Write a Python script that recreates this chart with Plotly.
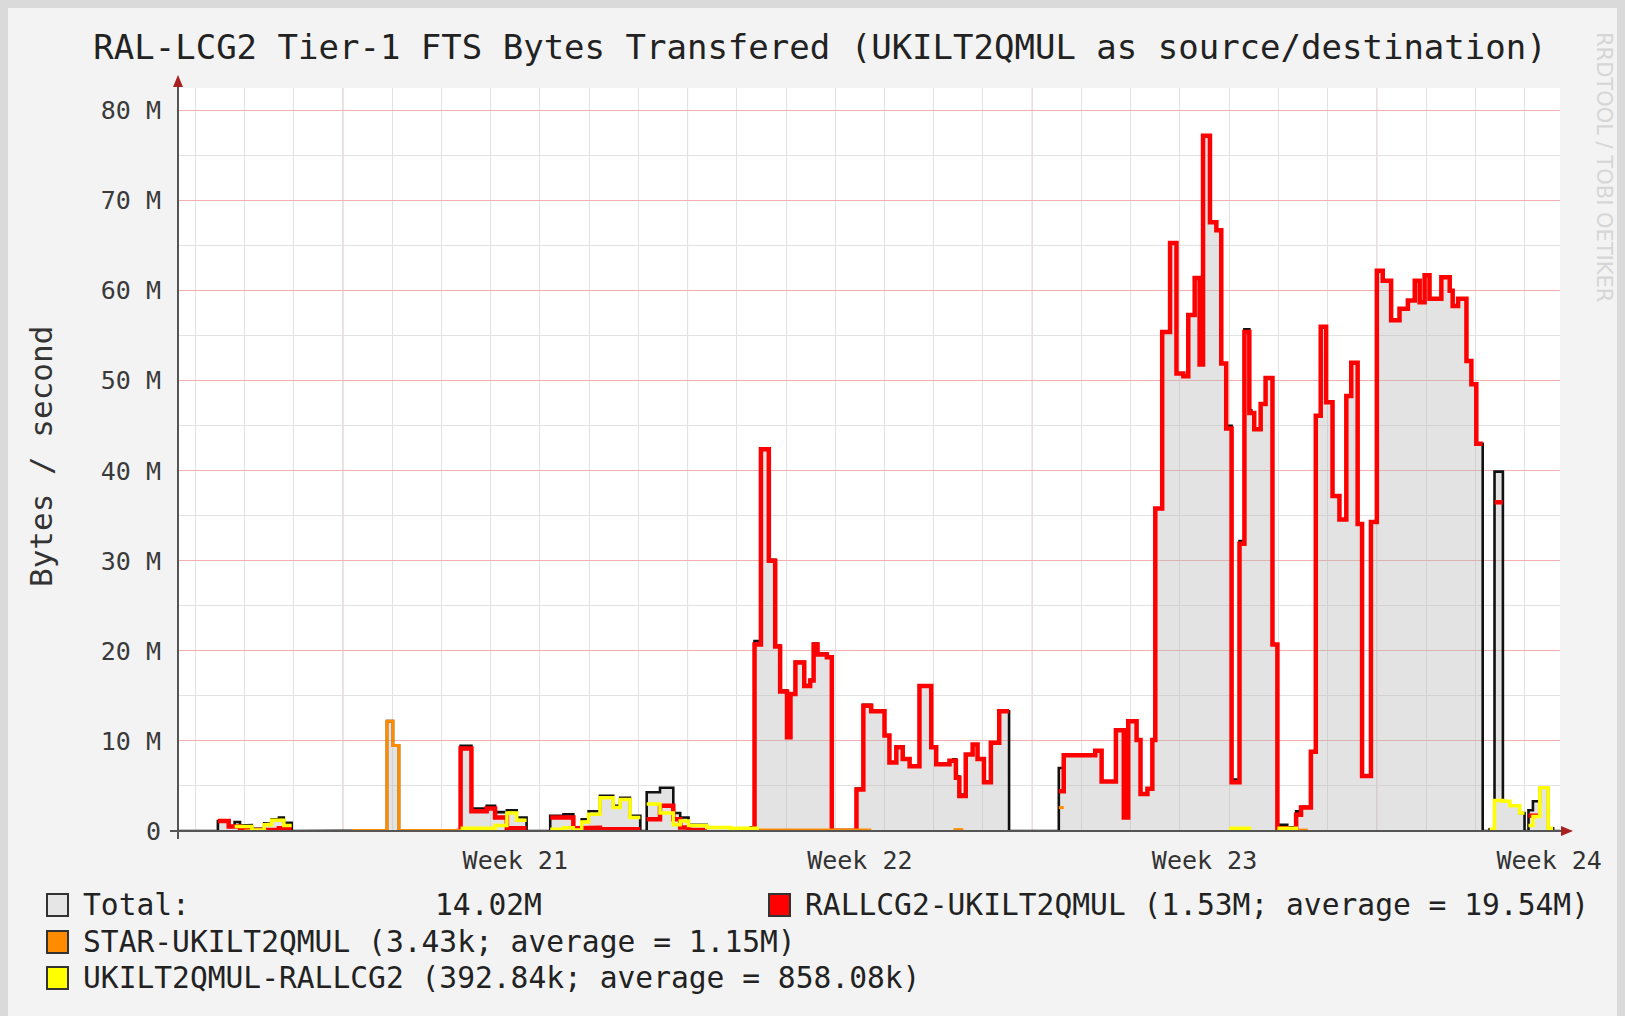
import bisect
import plotly.graph_objects as go

# ---------------- data (time in days from Monday of week 21, values in MB/s) ----------------
X_START, X_END = -3.35, 24.72

week_tick_pos = [3.5, 10.5, 17.5, 24.5]
week_tick_text = ["Week 21", "Week 22", "Week 23", "Week 24"]
y_tick_vals = [0, 10, 20, 30, 40, 50, 60, 70, 80]
y_tick_text = ["0", "10 M", "20 M", "30 M", "40 M", "50 M", "60 M", "70 M", "80 M"]

# RALLCG2-UKILT2QMUL (step start times / values, None = unknown)
red_t = [X_START, -2.54, -2.32, -2.09, -1.30, -1.04,
         2.30, 2.39, 2.61, 2.92, 3.09, 3.33, 3.73,
         4.21, 4.68, 4.99, 5.22, 6.04,
         6.17, 6.44, 6.71, 6.85, 7.02, 7.39,
         8.28, 8.36, 8.49, 8.65, 8.78, 8.88, 9.02, 9.09, 9.19, 9.37, 9.49, 9.56, 9.64, 9.83, 9.93,
         10.43, 10.57, 10.73, 11.00, 11.10, 11.24, 11.37, 11.51, 11.71, 11.95, 12.05, 12.32, 12.45,
         12.52, 12.65, 12.79, 12.89, 13.02, 13.16, 13.33, 13.53,
         14.54, 14.64, 15.28, 15.41, 15.70, 15.86, 15.95, 16.12, 16.20, 16.34, 16.44, 16.50, 16.64,
         16.80, 16.93, 17.07, 17.17, 17.30, 17.40, 17.47, 17.61, 17.74, 17.84, 17.94, 18.05, 18.21,
         18.31, 18.41, 18.51, 18.64, 18.74, 18.88, 18.98, 19.18, 19.36, 19.46, 19.66, 19.76, 19.86,
         19.97, 20.10, 20.24, 20.38, 20.48, 20.61, 20.70, 20.88, 21.00, 21.12, 21.29, 21.46, 21.63,
         21.77, 21.87, 21.97, 22.07, 22.31, 22.48, 22.54, 22.65, 22.82, 22.92, 23.02, 23.15,
         23.39, 23.56, 24.08, 24.31]
red_v = [None, 1.1, 0.5, 0.1, 0.3, None,
         0.0, 9.15, 2.2, 2.5, 1.5, 0.3, None,
         1.5, 0.3, 0.35, 0.2, None,
         1.3, 2.8, 1.3, 0.4, 0.1, None,
         0.0, 20.7, 42.4, 30.0, 20.5, 15.5, 10.4, 15.2, 18.7, 16.1, 16.7, 20.7, 19.6, 19.3, 0.0,
         4.6, 13.9, 13.3, 10.6, 7.6, 9.3, 8.0, 7.2, 16.1, 9.3, 7.4, 7.8, 5.9,
         3.9, 8.5, 9.6, 8.0, 5.4, 9.8, 13.3, None,
         4.4, 8.4, 8.9, 5.5, 11.2, 1.5, 12.2, 10.1, 4.1, 4.7, 10.1, 35.8, 55.4,
         65.3, 50.8, 50.5, 57.3, 61.4, 51.8, 77.2, 67.6, 66.7, 51.9, 44.7, 5.4, 31.9,
         55.4, 46.4, 44.6, 47.4, 50.3, 20.7, 0.3, 0.0, 1.8, 2.6, 8.8, 46.1, 56.0,
         47.6, 37.2, 34.6, 48.3, 52.0, 34.1, 6.1, 34.3, 62.2, 61.1, 56.7, 58.0, 58.9,
         61.1, 58.7, 61.7, 59.1, 61.5, 60.0, 58.3, 59.1, 52.2, 49.6, 43.0, None,
         36.5, None, 1.7, None]

# STAR-UKILT2QMUL
orange_t = [X_START, -2.00, -1.55, 0.18, 0.894, 1.016, 1.138, 2.39,
            8.28, 10.73, 12.40, 12.60, 14.54, 14.64, 19.00, 19.60]
orange_v = [None, 0.05, None, 0.05, 12.2, 9.5, 0.05, None,
            0.1, None, 0.15, None, 2.6, None, 0.1, None]

# UKILT2QMUL-RALLCG2
yellow_t = [X_START, -2.20, -1.85, -1.60, -1.45, -1.20, -1.04,
            2.39, 3.09, 3.33, 3.53, 3.73,
            4.21, 4.48, 4.68, 4.85, 4.99, 5.22, 5.49, 5.63, 5.83, 6.04,
            6.17, 6.44, 6.71, 6.85, 7.02, 7.39, 7.87, 8.45,
            18.00, 18.45, 18.98, 19.40,
            23.29, 23.39, 23.56, 23.70, 23.90, 24.00, 24.08, 24.17, 24.31, 24.48, 24.58]
yellow_v = [None, 0.5, 0.1, 0.7, 1.2, 0.6, None,
            0.3, 0.6, 2.0, 1.2, None,
            0.2, 0.35, 0.1, 1.0, 1.85, 3.7, 2.6, 3.5, 1.5, None,
            3.0, 2.0, 0.7, 1.1, 0.6, 0.4, 0.3, None,
            0.3, None, 0.3, None,
            0.2, 3.4, 3.3, 2.8, 2.0, None, 0.6, 1.6, 4.8, 0.3, None]

legend_total = ("Total:", "14.02M")
legend_red = "RALLCG2-UKILT2QMUL (1.53M; average = 19.54M)"
legend_orange = "STAR-UKILT2QMUL (3.43k; average = 1.15M)"
legend_yellow = "UKILT2QMUL-RALLCG2 (392.84k; average = 858.08k)"

# ---------------- helpers ----------------
def step_xy(t, v):
    xs, ys = [], []
    for i in range(len(t)):
        t1 = t[i + 1] if i + 1 < len(t) else X_END
        if v[i] is None:
            xs.append(t[i]); ys.append(None)
        else:
            xs += [t[i], t1]; ys += [v[i], v[i]]
    return xs, ys


def value_at(t, v, x):
    i = bisect.bisect_right(t, x) - 1
    if i < 0 or v[i] is None:
        return 0.0
    return v[i]


breaks = sorted(set(red_t + orange_t + yellow_t))
total_v = [value_at(red_t, red_v, b) + value_at(orange_t, orange_v, b) + value_at(yellow_t, yellow_v, b)
           for b in breaks]

tx, ty = step_xy(breaks, total_v)
rx, ry = step_xy(red_t, red_v)
ox, oy = step_xy(orange_t, orange_v)
yx, yy = step_xy(yellow_t, yellow_v)

# ---------------- geometry ----------------
# screen pixel coordinates (page has an 8px body margin)
W, H = 1625, 1016
OFF = 8
L, R, T, B = 178, 1560, 88, 831


def px(x):
    return (x - L) / (R - L)


def py(y):
    return (B - y) / (B - T)


MONO = "DejaVu Sans Mono"

fig = go.Figure()
fig.add_trace(go.Scatter(x=tx, y=ty, mode="lines", fill="tozeroy",
                         fillcolor="rgba(185,185,185,0.40)", line=dict(width=0),
                         hoverinfo="skip", showlegend=False))
fig.add_trace(go.Scatter(x=tx, y=ty, mode="lines", line=dict(color="#111111", width=2.6),
                         name="Total", showlegend=False))
fig.add_trace(go.Scatter(x=rx, y=ry, mode="lines", line=dict(color="#ff0000", width=4.5),
                         connectgaps=False, name="RALLCG2-UKILT2QMUL", showlegend=False))
fig.add_trace(go.Scatter(x=ox, y=oy, mode="lines", line=dict(color="#ff8c00", width=3),
                         connectgaps=False, name="STAR-UKILT2QMUL", showlegend=False))
fig.add_trace(go.Scatter(x=yx, y=yy, mode="lines", line=dict(color="#ffff00", width=3.5),
                         connectgaps=False, name="UKILT2QMUL-RALLCG2", showlegend=False))

shapes = []
for d in [0, 7, 14, 21]:
    shapes.append(dict(type="line", xref="x", yref="paper", x0=d, x1=d, y0=0, y1=1,
                       line=dict(color="#f4b0b0", width=1), layer="below"))
# axis extensions and arrows
shapes.append(dict(type="line", xref="paper", yref="paper", x0=0, x1=0, y0=py(B + 8), y1=py(78),
                   line=dict(color="#555555", width=2)))
shapes.append(dict(type="line", xref="paper", yref="paper", x0=px(L - 8), x1=px(R + 6), y0=0, y1=0,
                   line=dict(color="#555555", width=2)))
shapes.append(dict(type="path", xref="paper", yref="paper",
                   path=f"M {px(L-5)} {py(T-1)} L {px(L+5)} {py(T-1)} L {px(L)} {py(T-13)} Z",
                   fillcolor="#a82020", line=dict(width=0)))
shapes.append(dict(type="path", xref="paper", yref="paper",
                   path=f"M {px(R+1)} {py(B-5)} L {px(R+1)} {py(B+5)} L {px(R+13)} {py(B)} Z",
                   fillcolor="#a82020", line=dict(width=0)))

annotations = []
annotations.append(dict(text="Bytes / second", xref="paper", yref="paper", x=px(41), y=py(457),
                        textangle=-90, showarrow=False, xanchor="center", yanchor="middle",
                        font=dict(family=MONO, size=31, color="#333333")))
annotations.append(dict(text="RRDTOOL / TOBI OETIKER", xref="paper", yref="paper", x=px(1604), y=py(167),
                        textangle=90, showarrow=False, xanchor="center", yanchor="middle",
                        font=dict(family="DejaVu Sans", size=21, color="#d6d6d6")))

legend_rows = [
    (47, 81, 905, "#e6e6e6", legend_total[0]),
    (47, 81, 942, "#ff8c00", legend_orange),
    (47, 81, 978, "#ffff00", legend_yellow),
    (769, 803, 905, "#ff0000", legend_red),
]
for bx, tx0, ry0, col, txt in legend_rows:
    shapes.append(dict(type="rect", xref="paper", yref="paper", x0=px(bx), x1=px(bx + 21),
                       y0=py(ry0 + 11), y1=py(ry0 - 11), fillcolor=col,
                       line=dict(color="#333333", width=2)))
    annotations.append(dict(text=txt, xref="paper", yref="paper", x=px(tx0), y=py(ry0),
                            showarrow=False, xanchor="left", yanchor="middle",
                            font=dict(family=MONO, size=29.6, color="#222222")))
annotations.append(dict(text=legend_total[1], xref="paper", yref="paper", x=px(433), y=py(905),
                        showarrow=False, xanchor="left", yanchor="middle",
                        font=dict(family=MONO, size=29.6, color="#222222")))

fig.update_layout(
    width=W, height=H,
    margin=dict(l=L - OFF, r=W - (R - OFF), t=T - OFF, b=H - (B - OFF), pad=0, autoexpand=False),
    paper_bgcolor="#f3f3f3", plot_bgcolor="#ffffff",
    title=dict(text="RAL-LCG2 Tier-1 FTS Bytes Transfered (UKILT2QMUL as source/destination)",
               x=(820 - OFF) / W, xref="container", xanchor="center",
               y=1 - (47 - OFF) / H, yref="container", yanchor="middle",
               font=dict(family=MONO, size=34, color="#222222")),
    shapes=shapes, annotations=annotations, showlegend=False,
)
fig.update_xaxes(range=[X_START, X_END], tickmode="array", tickvals=week_tick_pos, ticktext=week_tick_text,
                 showgrid=False, zeroline=False, showline=False, ticks="", automargin=False,
                 ticklabelstandoff=12,
                 tickfont=dict(family=MONO, size=25, color="#333333"),
                 minor=dict(tickmode="array", tickvals=list(range(-3, 25)), showgrid=True,
                            gridcolor="#e2e2e2", gridwidth=1, ticks=""))
fig.update_yaxes(range=[0, 82.5], tickmode="array", tickvals=y_tick_vals, ticktext=y_tick_text,
                 showgrid=True, gridcolor="#f4b0b0", gridwidth=1, zeroline=False, showline=False,
                 ticks="", ticklabelstandoff=16, automargin=False,
                 tickfont=dict(family=MONO, size=25, color="#3a3a3a"),
                 minor=dict(tickmode="array", tickvals=[5, 15, 25, 35, 45, 55, 65, 75], showgrid=True,
                            gridcolor="#e2e2e2", gridwidth=1, ticks=""))

fig.write_html("out.html", post_script="document.body.style.background='#dadada';")
